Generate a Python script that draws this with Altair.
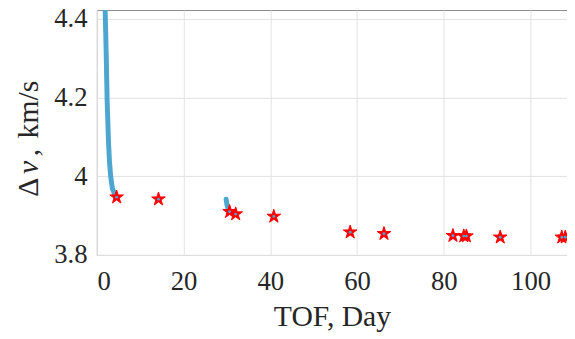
import altair as alt
import pandas as pd

# Continuous curve (two segments)
curve_seg = [1, 1, 1, 1, 1, 1, 1, 1, 1, 2, 2, 2]
curve_tof = [1.91, 2.14, 2.37, 2.67, 2.89, 3.19, 3.58, 4.19, 4.56, 29.8, 30.0, 30.4]
curve_dv = [4.423, 4.315, 4.190, 4.090, 4.040, 3.999, 3.969, 3.952, 3.947, 3.942, 3.927, 3.913]

# Star markers
star_tof = [4.55, 14.2, 30.6, 32.0, 40.8, 58.4, 66.2, 82.1, 84.6, 85.2, 93.0, 107.2, 108.0]
star_dv = [3.947, 3.942, 3.910, 3.904, 3.898, 3.858, 3.854, 3.849, 3.848, 3.848, 3.845, 3.845, 3.845]

x_ticks = [0, 20, 40, 60, 80, 100]
y_ticks = [3.8, 4.0, 4.2, 4.4]

curve = pd.DataFrame({"seg": curve_seg, "tof": curve_tof, "dv": curve_dv})
stars = pd.DataFrame({"tof": star_tof, "dv": star_dv})

FONT = "Liberation Serif"
TXT = "#262626"
STAR = ("M0,-1 L0.2245,-0.309 L0.951,-0.309 L0.363,0.118 L0.588,0.809 L0,0.382 "
        "L-0.588,0.809 L-0.363,0.118 L-0.951,-0.309 L-0.2245,-0.309 Z")
TSIZE = 30

xs = alt.Scale(domain=[0, 108.4], nice=False, zero=False)
ys = alt.Scale(domain=[3.8, 4.423], nice=False, zero=False)

xax = alt.Axis(values=x_ticks, title="TOF,\u00a0Day", grid=True, ticks=False,
               labelPadding=14, titlePadding=7, domain=False)
yax = alt.Axis(values=y_ticks, title=None, grid=True, ticks=False,
               labelExpr="datum.value == 4 ? '4' : format(datum.value, '.1f')",
               labelPadding=10, domain=False)

line = alt.Chart(curve).mark_line(color="#4DA6CF", strokeWidth=5, clip=True, strokeCap="round").encode(
    x=alt.X("tof:Q", scale=xs, axis=xax),
    y=alt.Y("dv:Q", scale=ys, axis=yax),
    detail="seg:N",
)

star = alt.Chart(stars).mark_point(shape=STAR, filled=True, fill="#FF0000", size=210,
                                   opacity=1, clip=True, stroke="#FF0000", strokeWidth=1).encode(
    x=alt.X("tof:Q", scale=xs),
    y=alt.Y("dv:Q", scale=ys),
)

dot = alt.Chart(stars).mark_point(shape="circle", filled=True, fill="#4DA6CF", size=8,
                                  opacity=1, clip=True).encode(
    x=alt.X("tof:Q", scale=xs),
    y=alt.Y("dv:Q", scale=ys),
)

# y-axis title pieces: "Δ" + italic "v" + ", km/s"
def ytitle_part(txt, ypos, italic=False):
    return alt.Chart(pd.DataFrame({"t": [txt]})).mark_text(
        angle=270, align="left", baseline="alphabetic", font=FONT, fontSize=TSIZE,
        fontStyle="italic" if italic else "normal", color=TXT,
    ).encode(text="t:N", x=alt.value(-60), y=alt.value(ypos))

t1 = ytitle_part("Δ", 189)
t2 = ytitle_part("v", 166, italic=True)
t3 = ytitle_part(",", 148)
t4 = ytitle_part("km/s", 130)

chart = alt.layer(line, star, dot, t1, t2, t3, t4).properties(
    width=476, height=248,
    autosize=alt.AutoSizeParams(type="none"),
    padding={"left": 90, "top": 0, "right": 0, "bottom": 80},
).configure_view(
    stroke="#8a8a8a", strokeWidth=1
).configure_axis(
    labelFont=FONT, titleFont=FONT, labelFontSize=27, titleFontSize=TSIZE,
    labelColor=TXT, titleColor=TXT, titleFontWeight="normal",
    gridColor="#e3e3e3", gridWidth=1,
)

chart.save("out.html", embed_options={"renderer": "svg", "actions": False})
